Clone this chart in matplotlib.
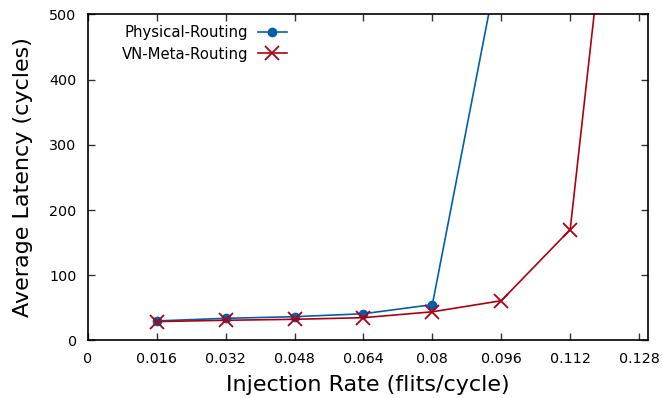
import matplotlib
matplotlib.use("Agg")
import matplotlib.pyplot as plt

# Injection rates (flits/cycle) and average latency (cycles)
rates_phys = [0.016, 0.032, 0.048, 0.064, 0.080, 0.096]
lat_phys = [30, 34, 36.5, 41, 55, 600]

rates_vn = [0.016, 0.032, 0.048, 0.064, 0.080, 0.096, 0.112, 0.128]
lat_vn = [29, 31, 32.5, 35, 44, 61, 170, 1120]

x_ticks = [0, 0.016, 0.032, 0.048, 0.064, 0.08, 0.096, 0.112, 0.128]
x_tick_labels = ["0", "0.016", "0.032", "0.048", "0.064", "0.08", "0.096", "0.112", "0.128"]
y_ticks = [0, 100, 200, 300, 400, 500]

plt.rcParams['font.family'] = ['DejaVu Sans']

fig = plt.figure(figsize=(6.62, 3.98), dpi=100)
ax = fig.add_axes([0.1326, 0.1445, 0.8458, 0.8191])

ax.plot(rates_phys, lat_phys, color='#0060ad', lw=1.2, marker='o', ms=6,
        label='Physical-Routing')
ax.plot(rates_vn, lat_vn, color='#b0000f', lw=1.2, marker='x', ms=10, mew=1.3,
        label='VN-Meta-Routing')

ax.set_xlim(0, 0.13)
ax.set_ylim(0, 500)
ax.set_xticks(x_ticks)
ax.set_xticklabels(x_tick_labels)
ax.set_yticks(y_ticks)
ax.tick_params(direction='in', top=True, right=True, length=5, width=1,
               labelsize=10.3, pad=8, color='#333333')
for s in ax.spines.values():
    s.set_linewidth(1.2)

ax.set_xlabel('Injection Rate (flits/cycle)', fontsize=16, labelpad=6.5)
ax.set_ylabel('Average Latency (cycles)', fontsize=16, labelpad=11.5)

leg = ax.legend(loc='upper right', bbox_to_anchor=(0.375, 1.0), frameon=False,
                markerfirst=False, fontsize=10.7, handlelength=2.0,
                borderaxespad=0.3, labelspacing=0.45, handletextpad=0.65)
for t in leg.get_texts():
    t.set_ha('right')

fig.savefig('out.png', dpi=100)
